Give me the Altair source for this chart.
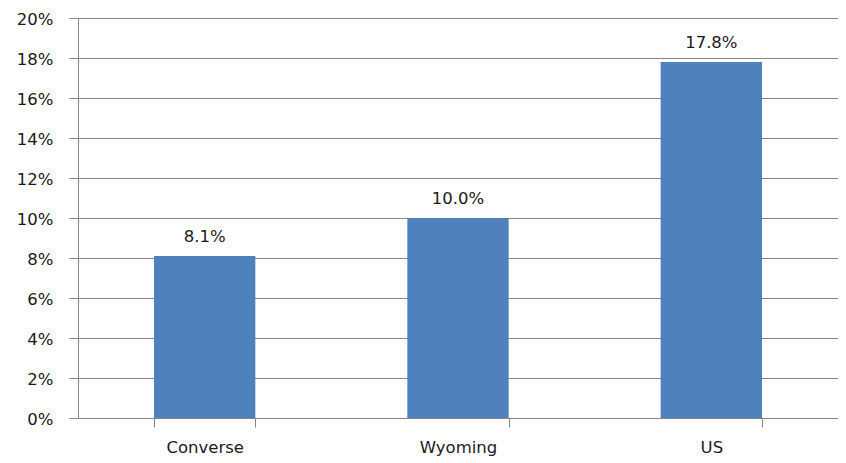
import altair as alt
import pandas as pd

categories = ["Converse", "Wyoming", "US"]
values = [0.081, 0.100, 0.178]
labels = ["8.1%", "10.0%", "17.8%"]

df = pd.DataFrame({"cat": categories, "val": values, "lab": labels})

FONT = "DejaVu Sans"
FS = 16.5
GRID = "#868686"
TXT = "#1a1a1a"

x = alt.X("cat:N", sort=categories, title=None,
          scale=alt.Scale(paddingInner=0.6, paddingOuter=0.3),
          axis=alt.Axis(labelAngle=0, labelFont=FONT, labelFontSize=FS, labelColor=TXT,
                        tickBand="extent", tickSize=9, tickColor=GRID, domainColor=GRID,
                        labelBaseline="alphabetic", labelPadding=25, grid=False))
y = alt.Y("val:Q", title=None,
          scale=alt.Scale(domain=[0, 0.2], nice=False),
          axis=alt.Axis(format=".0%", values=[i / 100 for i in range(0, 21, 2)],
                        labelOverlap=False, labelOffset=1,
                        labelFont=FONT, labelFontSize=FS, labelColor=TXT,
                        tickSize=9, tickColor=GRID, domainColor=GRID, gridColor=GRID,
                        labelPadding=16))

base = alt.Chart(df).encode(x=x, y=y)
bars = base.mark_bar(color="#4F81BD")
text = base.mark_text(baseline="alphabetic", dy=-14, font=FONT, fontSize=FS, color=TXT).encode(
    text="lab:N")

chart = (bars + text).properties(
    width=760, height=400,
    autosize=alt.AutoSizeParams(type="none"),
    padding={"left": 70, "top": 10, "right": 0, "bottom": 45},
).configure_view(stroke=None).configure(background="white")

chart.save("out.html", embed_options={"renderer": "svg", "actions": False})
